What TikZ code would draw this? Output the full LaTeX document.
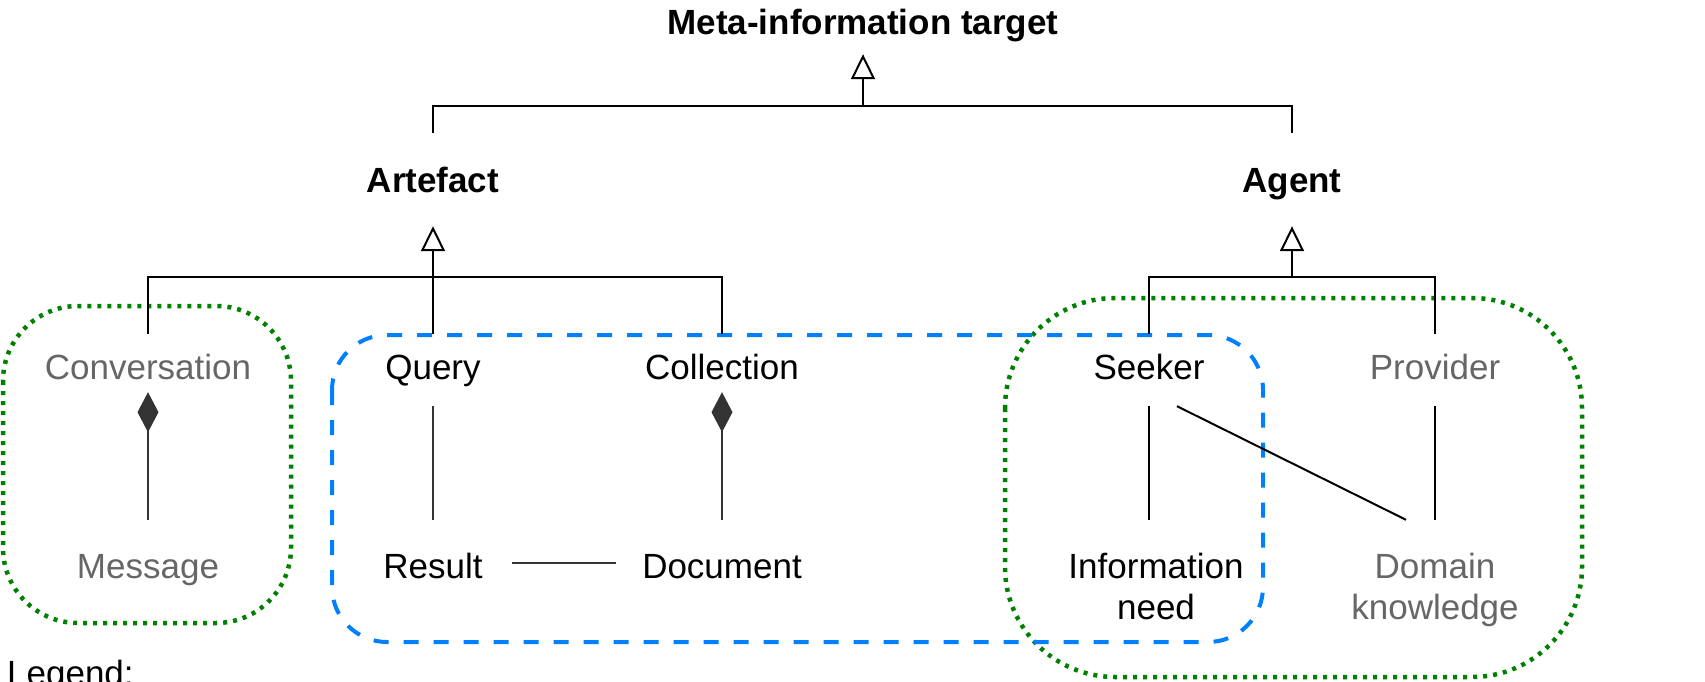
\documentclass[tikz,border=0pt]{standalone}
\usepackage{fontspec}
\setmainfont{Liberation Sans}
\usetikzlibrary{arrows.meta}
\definecolor{greytxt}{HTML}{666666}
\definecolor{dk}{HTML}{333333}
\definecolor{grp}{HTML}{008000}
\definecolor{blu}{HTML}{007FFF}
\begin{document}
\begin{tikzpicture}[x=1pt,y=-1pt,
  every node/.style={inner sep=0pt, font=\fontsize{35pt}{41pt}\selectfont},
  head/.style={font=\fontsize{35pt}{41pt}\selectfont\bfseries},
  rowone/.style={minimum height=72pt, text height=25pt, text depth=7pt},
  rowtwo/.style={minimum height=86pt, text height=30pt, text depth=0pt},
  tworow/.style={minimum height=139pt, text height=25pt, text depth=48pt},
  faint/.style={text=greytxt},
  plain/.style={draw=black, line width=2pt},
  gen/.style={draw=black, line width=2pt, -{Triangle[open, length=25pt, width=24pt, fill=white]}},
  comp/.style={draw=dk, line width=2pt, -{Diamond[length=40pt, width=21pt, fill=dk]}},
  assoc/.style={draw=dk, line width=2pt},
  grpbox/.style={draw=grp, line width=4.5pt, dash pattern=on 4pt off 6pt},
  blubox/.style={draw=blu, line width=4pt, dash pattern=on 15pt off 15pt}
]
\useasboundingbox (0,0) rectangle (1705,682);

% group frames
\draw[grpbox, rounded corners=75pt] (3,306) rectangle (291,623);
\draw[grpbox, rounded corners=110pt] (1005,298) rectangle (1582,677);
\draw[blubox, rounded corners=55pt] (332,335) rectangle (1263,642);

% nodes
\node[head, minimum height=57pt, text height=25pt, text depth=7pt] (title) at (863,25.5) {Meta-information target};
\node[head, minimum height=93pt, text height=28pt, text depth=3pt] (artefact) at (433,179.5) {Artefact};
\node[head, minimum height=93pt, text height=28pt, text depth=3pt] (agent) at (1292,179.5) {Agent};

\node[rowone, faint] (conv) at (148,370) {Conversation};
\node[rowone] (query) at (433,370) {Query};
\node[rowone] (coll) at (722,370) {Collection};
\node[rowone] (seeker) at (1149,370) {Seeker};
\node[rowone, faint] (prov) at (1435,370) {Provider};

\node[rowtwo, faint] (msg) at (148,563) {Message};
\node[rowtwo, minimum width=158pt] (result) at (433,563) {Result};
\node[rowtwo, minimum width=212pt] (doc) at (722,563) {Document};
\node[tworow] (need) at (1156,589.5) {\begin{tabular}[t]{@{}c@{}}Information\\need\end{tabular}};
\node[tworow, faint] (dom) at (1435,589.5) {\begin{tabular}[t]{@{}c@{}}Domain\\knowledge\end{tabular}};

\node[anchor=base west] (legend) at (7,685) {Legend:};

% generalisation
\coordinate (tj) at (863,106);
\coordinate (aj) at (1292,277);
\draw[plain] (artefact.north) -- ++(0,-27) -| (agent.north);
\draw[gen] (tj) -- (title.south);
\draw[plain] (conv.north) -- ++(0,-57) -| (coll.north);
\draw[gen] (query.north) -- (artefact.south);
\draw[plain] (seeker.north) -- ++(0,-57) -| (prov.north);
\draw[gen] (aj) -- (agent.south);

% composition
\draw[comp] (msg.north) -- ([yshift=14pt]conv.south);
\draw[comp] (doc.north) -- ([yshift=14pt]coll.south);

% associations
\draw[assoc] (query.south) -- (result.north);
\draw[assoc] (result.east) -- (doc.west);
\draw[plain] (seeker.south) -- (seeker.south |- need.north);
\draw[plain] (prov.south) -- (dom.north);
\draw[plain] ([xshift=28pt]seeker.south) -- ([xshift=-29pt]dom.north);
\end{tikzpicture}
\end{document}
